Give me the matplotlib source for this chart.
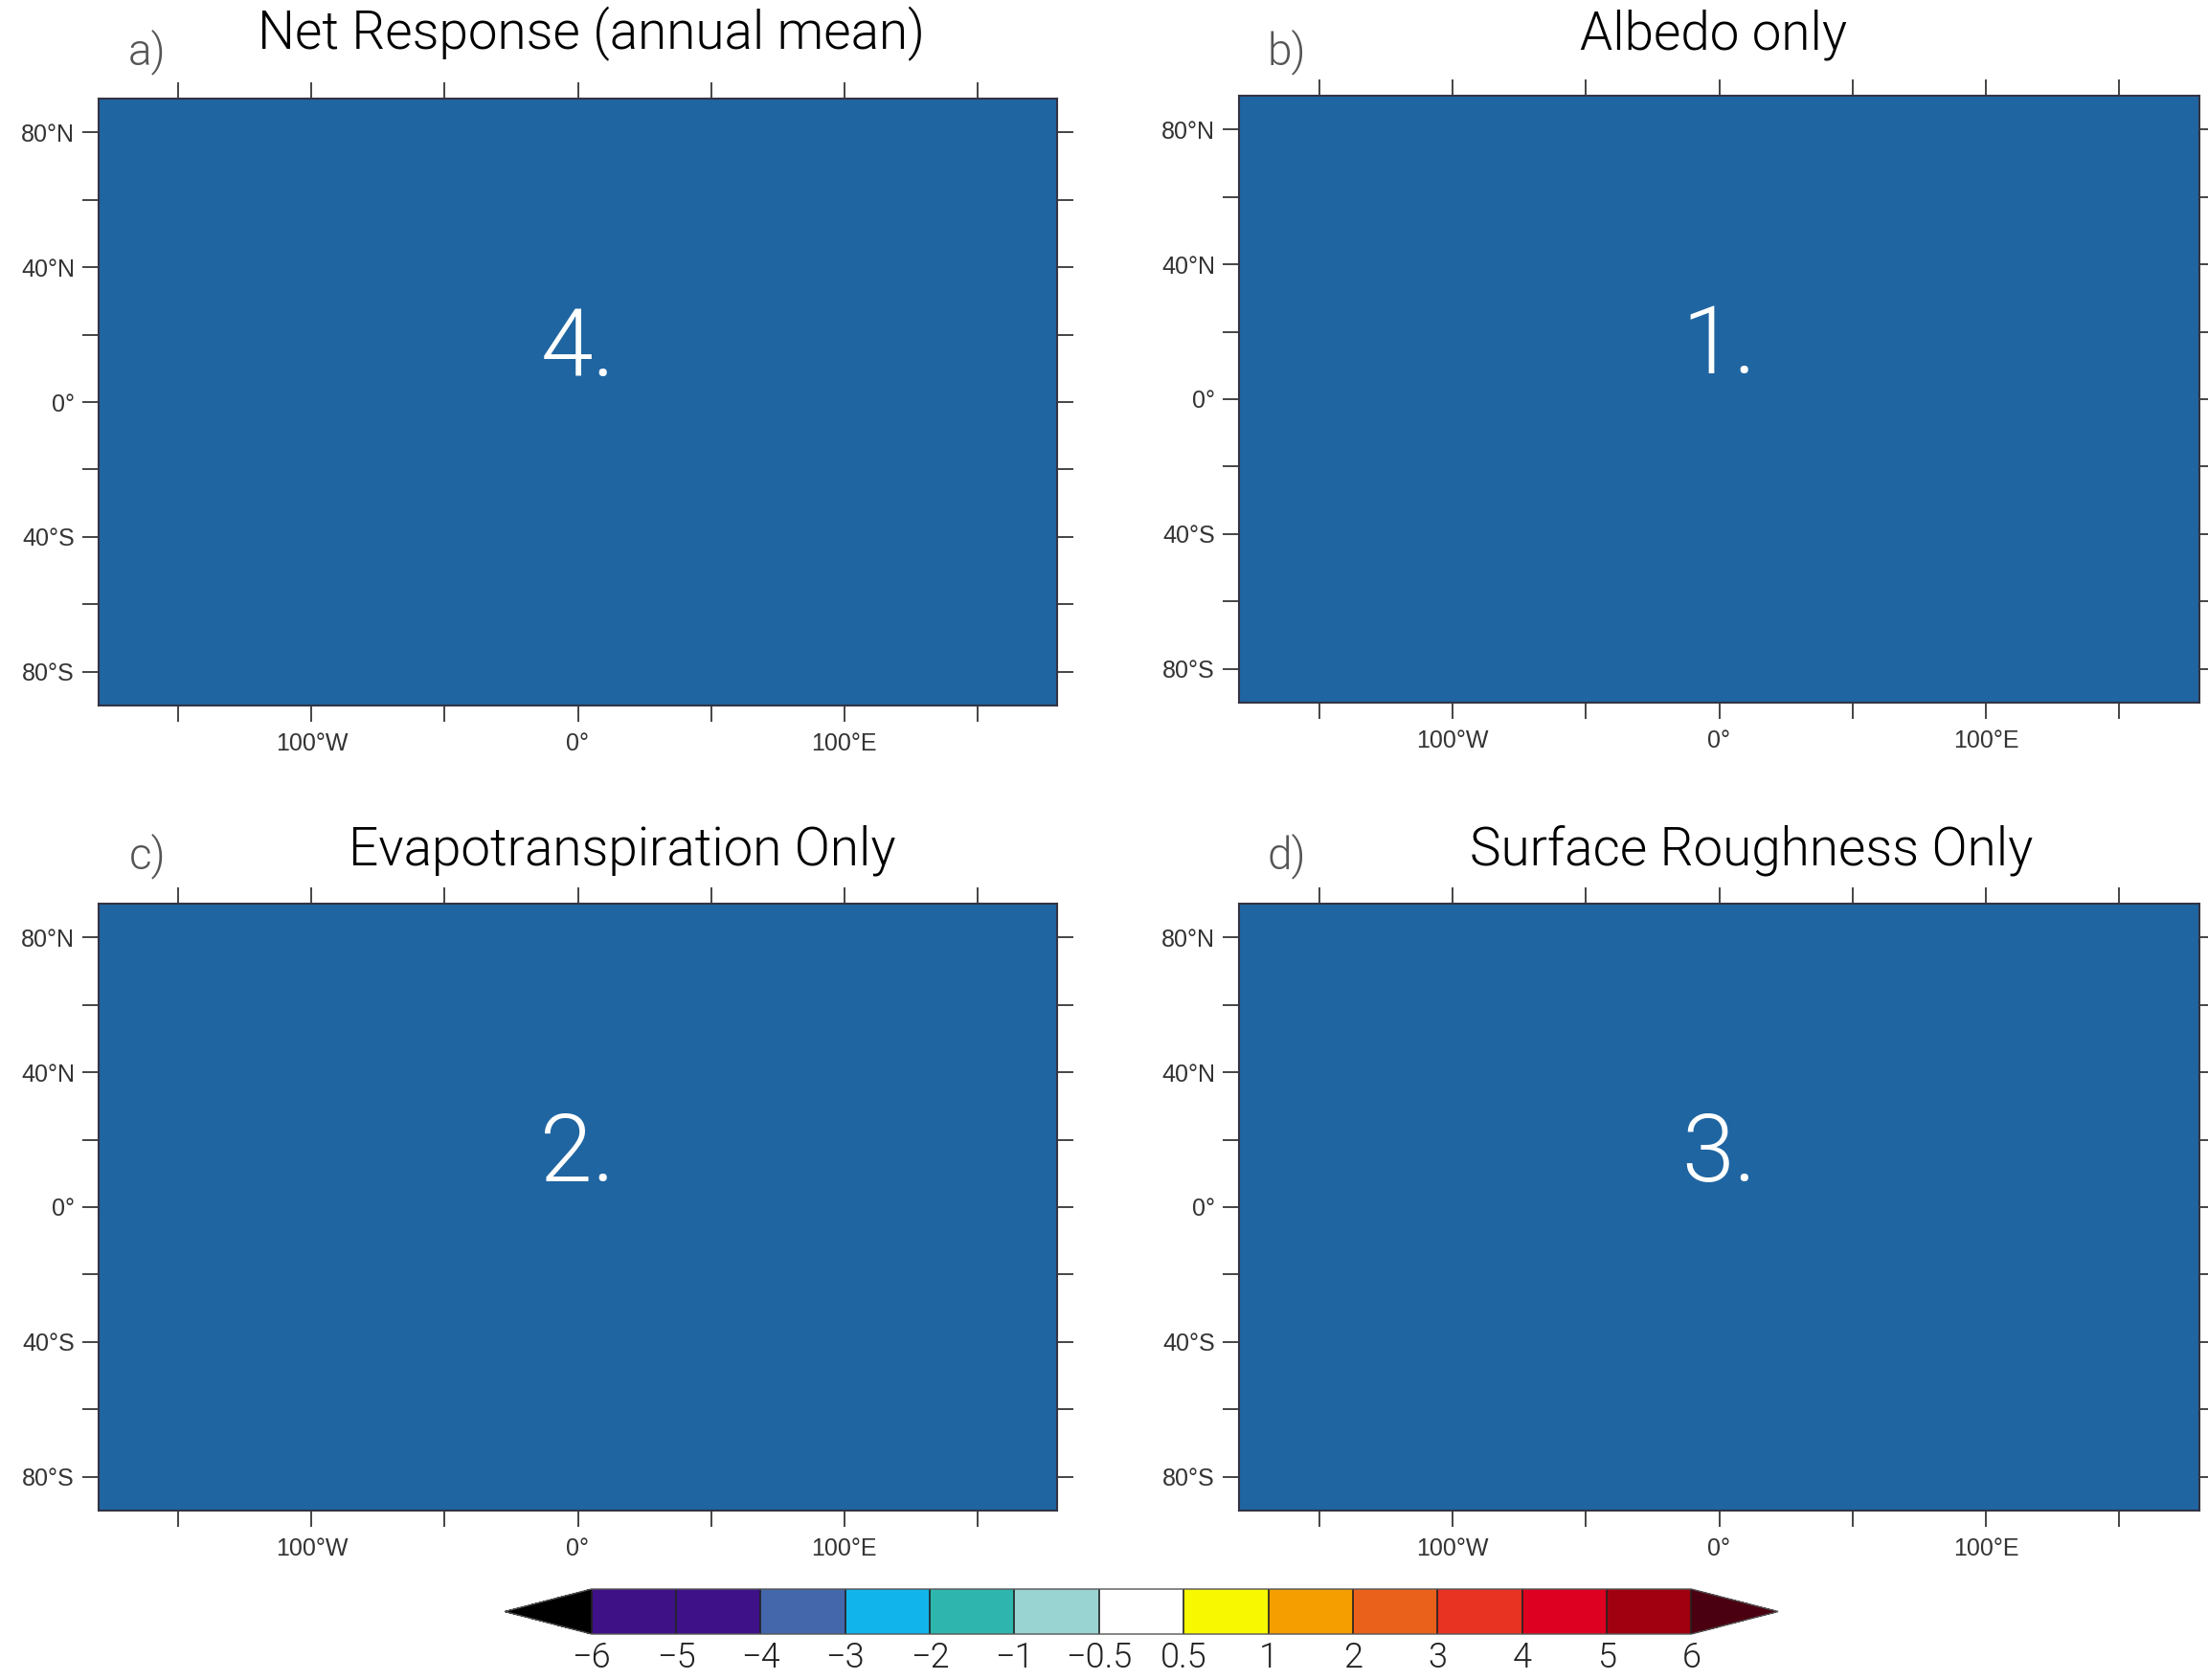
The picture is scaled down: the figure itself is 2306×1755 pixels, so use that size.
"""
Four-panel placeholder layout (global lat/lon frames) with a shared
discrete colour bar underneath.
"""
import matplotlib
matplotlib.use('Agg')
import matplotlib.pyplot as plt
import matplotlib.colors as mcolors
import matplotlib.cm as cm

# ------------------------------------------------------------
# data
# ------------------------------------------------------------
PANEL_TITLES = ['Net Response (annual mean)', 'Albedo only',
                'Evapotranspiration Only', 'Surface Roughness Only']
PANEL_LETTERS = ['a)', 'b)', 'c)', 'd)']
PANEL_NUMBERS = ['4.', '1.', '2.', '3.']

LON_TICKS = [-150, -100, -50, 0, 50, 100, 150]
LON_LABELS = ['', '100°W', '', '0°', '', '100°E', '']
LAT_TICKS = [-80, -60, -40, -20, 0, 20, 40, 60, 80]
LAT_LABELS = ['80°S', '', '40°S', '', '0°', '', '40°N', '', '80°N']

CB_BOUNDS = [-6, -5, -4, -3, -2, -1, -0.5, 0.5, 1, 2, 3, 4, 5, 6]
CB_LABELS = ['−6', '−5', '−4', '−3', '−2', '−1', '−0.5', '0.5',
             '1', '2', '3', '4', '5', '6']
CB_COLORS = ['#3e1186', '#3e1189', '#4467ab', '#12b4ec', '#2eb5ad',
             '#99d4d2', '#ffffff', '#f8f800', '#f49e00', '#ea611c',
             '#e83222', '#de0020', '#a00010']
CB_UNDER = '#000000'
CB_OVER = '#4a0010'

# ------------------------------------------------------------
# layout / style
# ------------------------------------------------------------
FILL = '#1f65a1'
TXT_FONT = ['Roboto', 'DejaVu Sans']
TICK_FONT = ['Liberation Sans', 'DejaVu Sans']
TXT_WEIGHT = 300

W, H = 2306, 1755
# axes rectangles in pixels: left, top, right, bottom
RECTS = [(103, 103, 1104, 737), (1294, 100, 2297, 734),
         (103, 944, 1104, 1578), (1294, 944, 2297, 1578)]
TITLE_POS = [(0.514, 1.106), (0.494, 1.101), (0.546, 1.088), (0.534, 1.088)]
LETTER_POS = [(0.051, 1.077), (0.050, 1.073), (0.051, 1.079), (0.050, 1.079)]


def px_rect(l, t, r, b):
    return [l / W, 1 - b / H, (r - l) / W, (b - t) / H]


fig = plt.figure(figsize=(W / 100, H / 100), dpi=100)

for i, rect in enumerate(RECTS):
    ax = fig.add_axes(px_rect(*rect))
    ax.set_xlim(-180, 180)
    ax.set_ylim(-90, 90)
    ax.set_facecolor(FILL)
    ax.set_xticks(LON_TICKS)
    ax.set_xticklabels(LON_LABELS)
    ax.set_yticks(LAT_TICKS)
    ax.set_yticklabels(LAT_LABELS)
    ax.tick_params(direction='out', length=12, width=1.4, color='#444444',
                   top=True, right=True, labelsize=18, labelcolor='#333333',
                   pad=6)
    ax.tick_params(axis='x', pad=8)
    for lab in ax.get_xticklabels() + ax.get_yticklabels():
        lab.set_family(TICK_FONT)
    for sp in ax.spines.values():
        sp.set_color('#333344')
        sp.set_linewidth(1.5)

    tx, ty = TITLE_POS[i]
    ax.text(tx, ty, PANEL_TITLES[i], transform=ax.transAxes, ha='center',
            va='center', fontsize=39.5, family=TXT_FONT,
            fontweight=TXT_WEIGHT, color='black')
    lx, ly = LETTER_POS[i]
    ax.text(lx, ly, PANEL_LETTERS[i], transform=ax.transAxes, ha='center',
            va='center', fontsize=33, family=TXT_FONT, fontweight=TXT_WEIGHT,
            color='#555555')
    ax.text(0.5, 0.543, PANEL_NUMBERS[i], transform=ax.transAxes,
            ha='center', va='baseline', fontsize=71, family=TXT_FONT,
            fontweight=TXT_WEIGHT, color='white')

# ------------------------------------------------------------
# colour bar
# ------------------------------------------------------------
cmap = mcolors.ListedColormap(CB_COLORS)
cmap.set_under(CB_UNDER)
cmap.set_over(CB_OVER)
norm = mcolors.BoundaryNorm(CB_BOUNDS, cmap.N)
sm = cm.ScalarMappable(norm=norm, cmap=cmap)

cax = fig.add_axes(px_rect(527, 1660, 1857, 1707))
cb = fig.colorbar(sm, cax=cax, orientation='horizontal', extend='both',
                  extendfrac=0.079, drawedges=True, ticks=CB_BOUNDS,
                  spacing='uniform')
cb.set_ticklabels(CB_LABELS)
cb.outline.set_linewidth(1.0)
cb.outline.set_edgecolor('#555555')
cb.dividers.set_color('#222222')
cb.dividers.set_linewidth(1.2)
cax.tick_params(length=0, labelsize=26, labelcolor='#222222', pad=5)
for lab in cax.get_xticklabels():
    lab.set_family(TXT_FONT)
    lab.set_fontweight(TXT_WEIGHT)

fig.savefig('out.png', dpi=100)
